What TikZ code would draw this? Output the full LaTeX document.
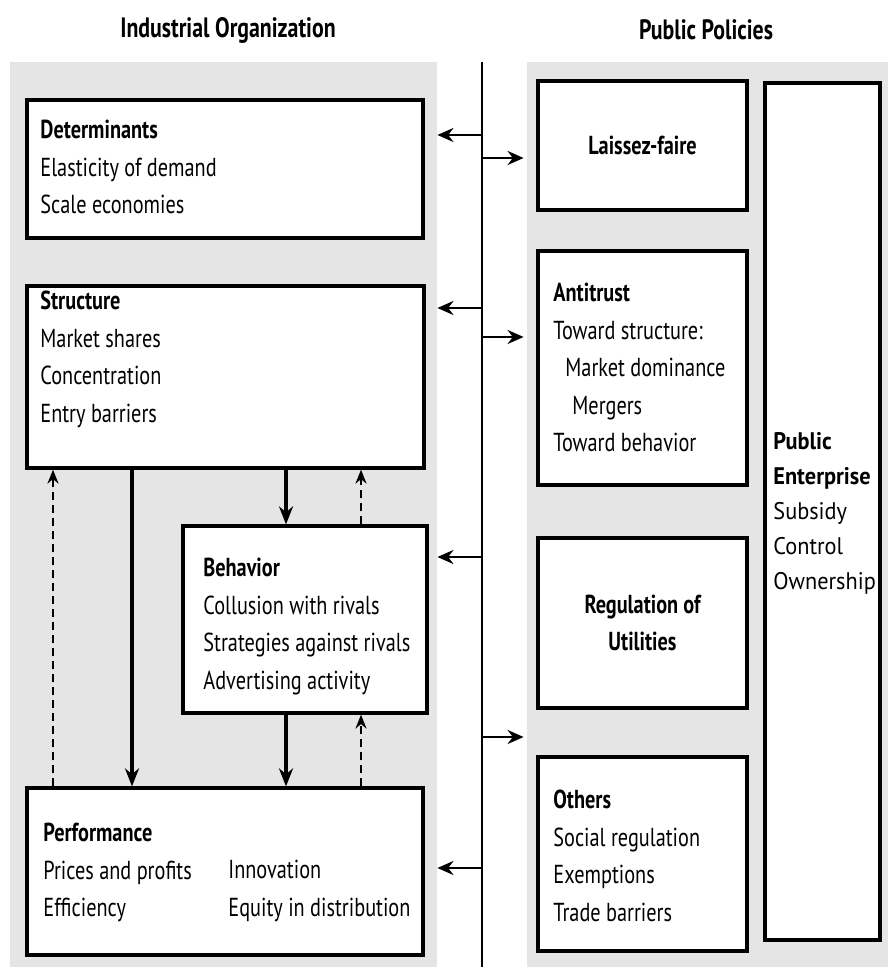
\documentclass[tikz,border=0pt]{standalone}
\usepackage{fontspec}
\setmainfont{PT Sans}[FakeStretch=0.78]
\newfontfamily\wideface{PT Sans}[FakeStretch=0.93]
\usetikzlibrary{arrows.meta,fit}

\begin{document}
\begin{tikzpicture}[x=0.5pt,y=-0.5pt,
    panel/.style={fill=gray!20,inner sep=0pt},
    box/.style={draw,line width=1.6pt,fill=white,inner sep=0pt},
    txt/.style={anchor=north west,inner sep=0pt,align=left,font=\fontsize{13}{18.75}\selectfont},
    head/.style={inner sep=0pt,font=\fontsize{13}{18.75}\selectfont\bfseries},
    title/.style={inner sep=0pt,font=\fontsize{14}{16}\selectfont\bfseries},
    flow/.style={-{Stealth[length=9pt,width=7pt]},line width=1.6pt},
    back/.style={-{Stealth[length=7pt,width=5.5pt]},line width=1.1pt,dash pattern=on 4pt off 2.5pt},
    link/.style={-{Stealth[length=8pt,width=7pt]},line width=1.4pt}]
    \useasboundingbox (0,0) rectangle (888,967);

    % Panels and titles
    \node[panel,fit={(10,62) (437,967)}] (iopanel) {};
    \node[panel,fit={(527,62) (888,967)}] (pppanel) {};
    \node[title] (iotitle) at (228,30) {Industrial Organization};
    \node[title] (pptitle) at (706,30) {Public Policies};

    % Spine
    \coordinate (spinetop) at (482,62);
    \coordinate (spinebot) at (482,967);
    \draw[line width=1.2pt] (spinetop) -- (spinebot);

    % Industrial organization boxes
    \node[box,fit={(27,100) (423,238)}] (det) {};
    \node[box,fit={(27,286) (424,468)}] (str) {};
    \node[box,fit={(183,526) (427,713)}] (beh) {};
    \node[box,fit={(27,788) (423,955)}] (perf) {};

    \node[txt] (dettxt) at (40,120) {\textbf{Determinants}\\Elasticity of demand\\Scale economies};
    \node[txt] (strtxt) at (40,291) {\textbf{Structure}\\Market shares\\Concentration\\Entry barriers};
    \node[txt] (behtxt) at (203,558) {\textbf{Behavior}\\Collusion with rivals\\Strategies against rivals\\Advertising activity};
    \node[txt] (perftxt) at (43,823) {\textbf{Performance}\\Prices and profits\\Efficiency};
    \node[txt] (perftxtb) at (228,860) {Innovation\\Equity in distribution};

    % Causal flows and feedbacks
    \coordinate (colA) at (53,0);
    \coordinate (colB) at (132,0);
    \coordinate (colC) at (286,0);
    \coordinate (colD) at (361,0);
    \draw[flow] (str.south -| colB) -- (perf.north -| colB);
    \draw[flow] (str.south -| colC) -- (beh.north -| colC);
    \draw[flow] (beh.south -| colC) -- (perf.north -| colC);
    \draw[back] (perf.north -| colA) -- (str.south -| colA);
    \draw[back] (beh.north -| colD) -- (str.south -| colD);
    \draw[back] (perf.north -| colD) -- (beh.south -| colD);

    % Public policy boxes
    \node[box,fit={(538,81) (747,210)}] (laissez) {};
    \node[box,fit={(538,251) (747,485)}] (anti) {};
    \node[box,fit={(538,538) (747,708)}] (reg) {};
    \node[box,fit={(538,757) (747,951)}] (others) {};
    \node[box,fit={(765,83) (880,940)}] (pubent) {};

    \node[head] (laissezlbl) at (laissez.center) {Laissez-faire};
    \node[txt] (antitxt) at (553,283) {\textbf{Antitrust}\\Toward structure:\\\hspace*{6pt}Market dominance\\\hspace*{9.5pt}Mergers\\Toward behavior};
    \node[head,align=center] (reglbl) at (reg.center) {Regulation of\\Utilities};
    \node[txt] (otherstxt) at (553,790) {\textbf{Others}\\Social regulation\\Exemptions\\Trade barriers};
    \node[txt,font=\wideface\fontsize{12}{17.5}\selectfont] (pubtxt) at (773,432) {\textbf{Public}\\\textbf{Enterprise}\\Subsidy\\Control\\Ownership};

    % Links from the spine
    \foreach \y in {135,308,557,868} {
        \coordinate (s) at (482,\y);
        \draw[link] (s) -- (s -| iopanel.east);
    }
    \foreach \y in {158,337,737} {
        \coordinate (s) at (482,\y);
        \draw[link] (s) -- ([xshift=-1.5pt]s -| pppanel.west);
    }
\end{tikzpicture}
\end{document}
